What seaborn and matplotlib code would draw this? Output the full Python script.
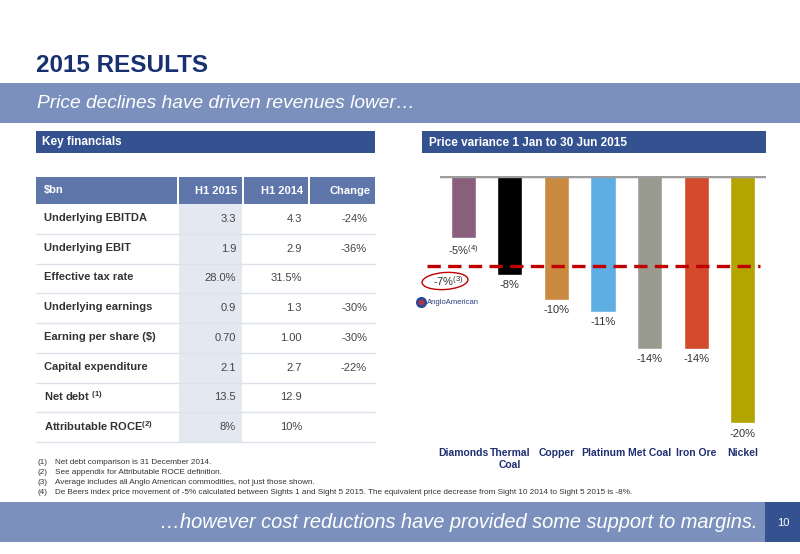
import matplotlib
matplotlib.use("Agg")
import matplotlib.pyplot as plt
import matplotlib.patches as mpatches
import seaborn as sns

# chart data
commodities = ["Diamonds", "Thermal Coal", "Copper", "Platinum", "Met Coal", "Iron Ore", "Nickel"]
tick_labels = ["Diamonds", "Thermal\nCoal", "Copper", "Platinum", "Met Coal", "Iron Ore", "Nickel"]
variance = [-5, -8, -10, -11, -14, -14, -20]
value_labels = [r"-5%$^{\rm (4)}$", "-8%", "-10%", "-11%", "-14%", "-14%", "-20%"]
bar_colors = ["#8a5f7e", "#000000", "#c98a40", "#5eaee4", "#9a9b8f", "#d34a2c", "#b4a400"]
average_line = -7.25
average_label = r"-7%$^{\rm (3)}$"

# table data
row_labels = ["Underlying EBITDA", "Underlying EBIT", "Effective tax rate", "Underlying earnings",
              "Earning per share ($)", "Capital expenditure", r"Net debt $^{\mathbf{(1)}}$",
              r"Attributable ROCE$^{\mathbf{(2)}}$"]
h1_2015 = ["3.3", "1.9", "28.0%", "0.9", "0.70", "2.1", "13.5", "8%"]
h1_2014 = ["4.3", "2.9", "31.5%", "1.3", "1.00", "2.7", "12.9", "10%"]
change = ["-24%", "-36%", "", "-30%", "-30%", "-22%", "", ""]
col_headers = ["$bn", "H1 2015", "H1 2014", "Change"]

footnotes = [
  "Net debt comparison is 31 December 2014.",
  "See appendix for Attributable ROCE definition.",
  "Average includes all Anglo American commodities, not just those shown.",
  "De Beers index price movement of -5% calculated between Sights 1 and Sight 5 2015. "
  "The equivalent price decrease from Sight 10 2014 to Sight 5 2015 is -8%.",
]

sns.set_theme(style="white")
plt.rcParams["font.family"] = ["Liberation Sans", "DejaVu Sans"]
plt.rcParams["mathtext.fontset"] = "custom"
plt.rcParams["mathtext.rm"] = "Liberation Sans"
plt.rcParams["mathtext.bf"] = "Liberation Sans:bold"
plt.rcParams["mathtext.it"] = "Liberation Sans:italic"

NAVY = "#17306f"
DARK_BLUE = "#34528f"
MID_BLUE = "#5e76aa"
BANNER = "#7b90bc"
TEXT = "#333333"

fig = plt.figure(figsize=(8, 5.54), dpi=100)

# slide background layer in pixel coordinates
bg = fig.add_axes([0, 0, 1, 1], zorder=0)
bg.set_xlim(0, 800)
bg.set_ylim(554, 0)
bg.axis("off")

bg.text(36, 66, "2015 RESULTS", fontsize=17.5, fontweight="bold", color=NAVY, va="center")
bg.add_patch(mpatches.Rectangle((0, 83), 800, 40, color=BANNER, lw=0))
bg.text(37, 103, "Price declines have driven revenues lower\u2026", fontsize=13.8, style="italic",
        color="white", va="center")

# section headers
bg.add_patch(mpatches.Rectangle((36, 131), 339, 22, color=DARK_BLUE, lw=0))
bg.text(42, 142.5, "Key financials", fontsize=8.5, fontweight="bold", color="white", va="center")
bg.add_patch(mpatches.Rectangle((422, 131), 344, 22, color=DARK_BLUE, lw=0))
bg.text(429, 142.5, "Price variance 1 Jan to 30 Jun 2015", fontsize=8.5, fontweight="bold",
        color="white", va="center")

# table
col_edges = [(36, 177), (179, 242), (244, 308), (310, 375)]
bg.add_patch(mpatches.Rectangle((179, 204), 63, 238, color="#e4e8f1", lw=0))
for (x0, x1), head in zip(col_edges, col_headers):
  bg.add_patch(mpatches.Rectangle((x0, 177), x1 - x0, 27, color=MID_BLUE, lw=0))
  if head == "$bn":
    bg.text(x0 + 8, 190.5, "\\$bn", fontsize=8, fontweight="bold", color="white", va="center")
  else:
    bg.text(x1 - 5, 190.5, head, fontsize=8, fontweight="bold", color="white", va="center", ha="right")

row_h = 238 / len(row_labels)
for i, (lab, a, b, c) in enumerate(zip(row_labels, h1_2015, h1_2014, change)):
  yc = 204 + row_h * (i + 0.5)
  bg.text(44, yc - 1, lab, fontsize=8, fontweight="bold", color=TEXT, va="center")
  bg.text(236, yc, a, fontsize=8, color="#444444", va="center", ha="right")
  bg.text(302, yc, b, fontsize=8, color="#444444", va="center", ha="right")
  bg.text(367, yc, c, fontsize=8, color="#444444", va="center", ha="right")
  bg.plot([36, 375], [204 + row_h * (i + 1)] * 2, color="#dde1ea", lw=1)

# footnotes
for i, note in enumerate(footnotes):
  y = 463 + 9.8 * i
  bg.text(37, y, f"({i + 1})", fontsize=5.9, color=TEXT, va="center")
  bg.text(55, y, note, fontsize=5.9, color=TEXT, va="center")

# bottom banner
bg.add_patch(mpatches.Rectangle((0, 502), 765, 40, color=BANNER, lw=0))
bg.add_patch(mpatches.Rectangle((765, 502), 35, 40, color=DARK_BLUE, lw=0))
bg.text(757, 522, "\u2026however cost reductions have provided some support to margins.", fontsize=14.4,
        style="italic", color="white", va="center", ha="right")
bg.text(783, 523, "10", fontsize=8, color="white", va="center", ha="center")

# red ellipse around average label and logo
bg.add_patch(mpatches.Ellipse((445, 281), 46, 17, angle=-4, fill=False, edgecolor="#c00000", lw=1))
bg.plot([421], [302], marker="o", markersize=7, color="#2a4a9a")
bg.plot([421], [302], marker="o", markersize=3, color="#c03040")
bg.text(427, 302, "AngloAmerican", fontsize=5.5, color="#2a3f85", va="center")

# bar chart
ax = fig.add_axes([440 / 800, 1 - 440 / 554, 326 / 800, 264 / 554], zorder=2)
ax.patch.set_alpha(0)
sns.barplot(x=commodities, y=variance, hue=commodities, palette=bar_colors, legend=False,
            saturation=1, width=0.54, ax=ax)
ax.set_xlim(-0.5, len(commodities) - 0.5)
ax.set_ylim(-(440 - 176) / 12.35, 0)
ax.axhline(0, color="#9d9d9d", lw=2.5, zorder=3)
ax.hlines(average_line, -0.78, 6.38, colors="#c00000", linestyles=(0, (4, 2.2)), lw=2.4,
          clip_on=False, zorder=4)
for cont, lab in zip(ax.containers, value_labels):
  ax.bar_label(cont, labels=[lab], padding=4, fontsize=8, color=TEXT)
ax.text(-0.32, average_line - 1.3, average_label, fontsize=8, color=TEXT, ha="center", va="center")

ax.set_xticks(range(len(commodities)))
ax.set_xticklabels(tick_labels, fontsize=7.5, fontweight="bold", color="#1f3070", linespacing=1.2)
ax.tick_params(axis="x", length=0, pad=6)
ax.set_yticks([])
ax.set_xlabel("")
ax.set_ylabel("")
sns.despine(ax=ax, left=True, bottom=True)

fig.savefig("out.png", dpi=100)
